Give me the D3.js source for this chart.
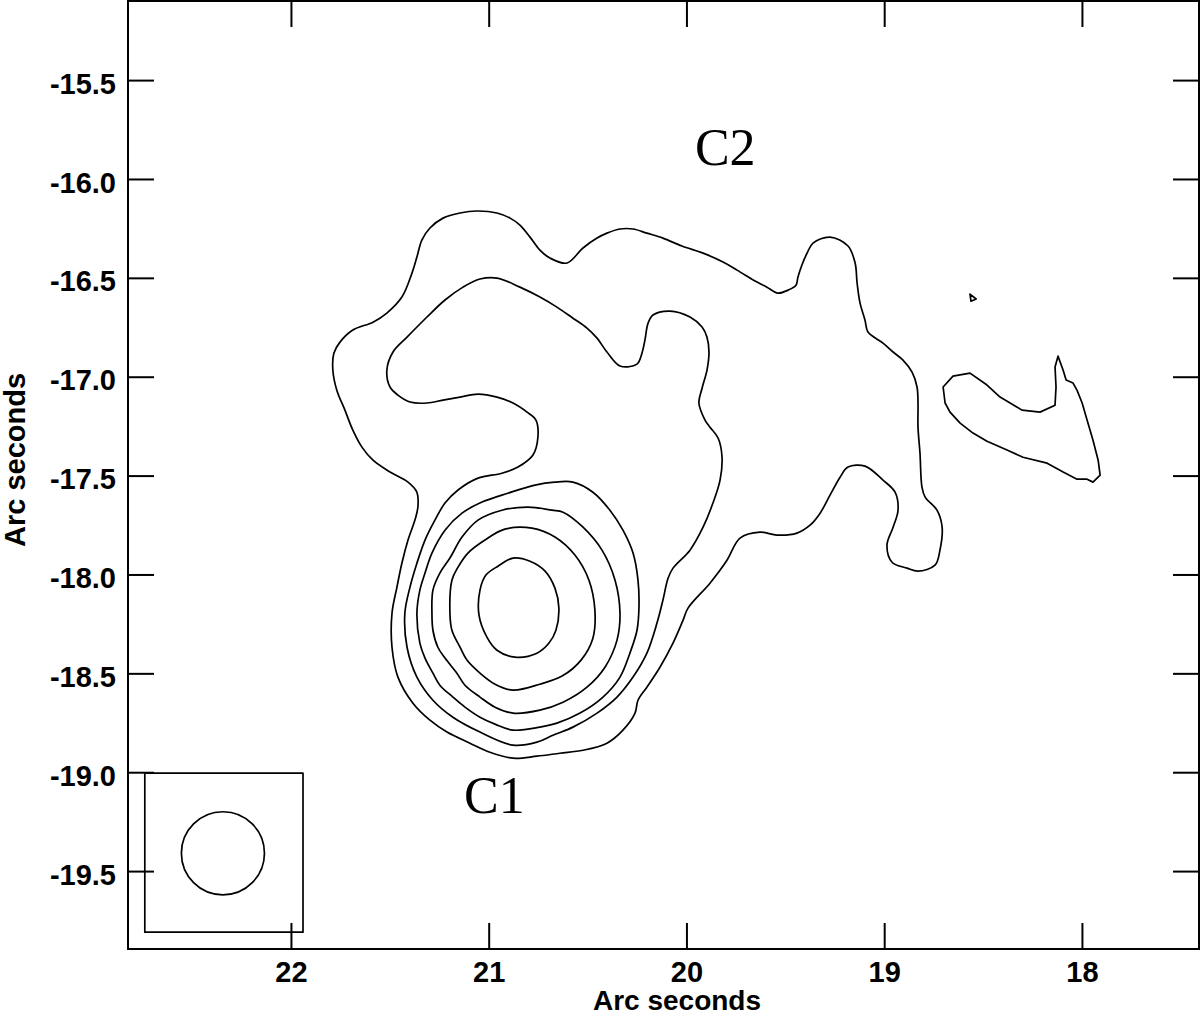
<!DOCTYPE html>
<html>
<head>
<meta charset="utf-8">
<script src="https://cdn.jsdelivr.net/npm/d3@7/dist/d3.min.js"></script>
<style>
  body { margin: 0; background: #fff; }
  svg { display: block; }
</style>
</head>
<body>
<svg id="chart" width="1200" height="1015"></svg>
<script>
// axes (arc seconds, x runs right to left)
const xDomain = [22.824, 17.408]
const yDomain = [-19.894, -15.1]
const xTicks = [22, 21, 20, 19, 18]
const yTicks = [-15.5, -16.0, -16.5, -17.0, -17.5, -18.0, -18.5, -19.0, -19.5]

// contour levels: [x, y] in arcsec
const outerContour = [
  [20.958, -16.172], [21.059, -16.162], [21.145, -16.172], [21.231, -16.198], [21.297, -16.248], [21.338, -16.309],
  [21.363, -16.395], [21.388, -16.476], [21.439, -16.597], [21.515, -16.678], [21.585, -16.724], [21.687, -16.764],
  [21.752, -16.825], [21.783, -16.881], [21.788, -16.967], [21.768, -17.068], [21.727, -17.169], [21.687, -17.270],
  [21.641, -17.356], [21.585, -17.422], [21.499, -17.482], [21.408, -17.533], [21.363, -17.584], [21.358, -17.659],
  [21.373, -17.725], [21.408, -17.826], [21.439, -17.943], [21.464, -18.064], [21.489, -18.196], [21.489, -18.368],
  [21.459, -18.519], [21.383, -18.651], [21.297, -18.737], [21.211, -18.797], [21.095, -18.853], [20.994, -18.899],
  [20.877, -18.929], [20.756, -18.919], [20.640, -18.904], [20.523, -18.889], [20.402, -18.853], [20.321, -18.787],
  [20.260, -18.701], [20.245, -18.636], [20.200, -18.570], [20.134, -18.469], [20.068, -18.347], [20.017, -18.231],
  [19.992, -18.170], [19.881, -18.044], [19.795, -17.928], [19.729, -17.816], [19.628, -17.786], [19.542, -17.801],
  [19.441, -17.791], [19.375, -17.751], [19.324, -17.690], [19.274, -17.599], [19.223, -17.508], [19.183, -17.457],
  [19.097, -17.452], [19.006, -17.523], [18.945, -17.584], [18.930, -17.675], [18.955, -17.761], [18.986, -17.852],
  [18.960, -17.938], [18.884, -17.968], [18.829, -17.983], [18.743, -17.953], [18.718, -17.877], [18.707, -17.761],
  [18.733, -17.675], [18.793, -17.609], [18.809, -17.558], [18.819, -17.386], [18.829, -17.255], [18.829, -17.128],
  [18.834, -17.052], [18.859, -16.977], [18.905, -16.916], [18.955, -16.875], [19.006, -16.830], [19.082, -16.774],
  [19.097, -16.714], [19.122, -16.628], [19.137, -16.526], [19.147, -16.425], [19.183, -16.339], [19.274, -16.294],
  [19.360, -16.324], [19.390, -16.375], [19.416, -16.435], [19.436, -16.496], [19.446, -16.537], [19.486, -16.562],
  [19.537, -16.577], [19.593, -16.547], [19.643, -16.521], [19.744, -16.461], [19.815, -16.420], [19.916, -16.375],
  [20.023, -16.339], [20.119, -16.299], [20.200, -16.274], [20.270, -16.253], [20.336, -16.253], [20.402, -16.274],
  [20.452, -16.299], [20.523, -16.349], [20.604, -16.425], [20.690, -16.400], [20.741, -16.360], [20.791, -16.294],
  [20.842, -16.233], [20.892, -16.198]
]

const secondContour = [
  [20.776, -17.396], [20.852, -17.457], [20.933, -17.488], [21.054, -17.513], [21.155, -17.573], [21.221, -17.639],
  [21.272, -17.725], [21.322, -17.826], [21.363, -17.943], [21.398, -18.064], [21.424, -18.196], [21.413, -18.368],
  [21.363, -18.519], [21.282, -18.636], [21.181, -18.722], [21.044, -18.797], [20.877, -18.863], [20.756, -18.848],
  [20.675, -18.813], [20.574, -18.772], [20.452, -18.701], [20.351, -18.620], [20.270, -18.519], [20.200, -18.398],
  [20.149, -18.246], [20.119, -18.130], [20.093, -18.019], [20.068, -17.968], [19.982, -17.877], [19.916, -17.761],
  [19.866, -17.639], [19.830, -17.523], [19.820, -17.407], [19.840, -17.310], [19.881, -17.255], [19.906, -17.219],
  [19.937, -17.133], [19.921, -17.058], [19.896, -16.967], [19.886, -16.875], [19.896, -16.800], [19.921, -16.749],
  [19.982, -16.698], [20.083, -16.668], [20.169, -16.688], [20.194, -16.729], [20.210, -16.815], [20.225, -16.881],
  [20.250, -16.936], [20.336, -16.946], [20.402, -16.875], [20.452, -16.805], [20.503, -16.754], [20.574, -16.704],
  [20.655, -16.648], [20.741, -16.597], [20.842, -16.547], [20.958, -16.501], [21.044, -16.506], [21.130, -16.547],
  [21.221, -16.612], [21.312, -16.698], [21.413, -16.800], [21.484, -16.875], [21.515, -16.967], [21.499, -17.052],
  [21.459, -17.093], [21.398, -17.128], [21.312, -17.133], [21.231, -17.118], [21.145, -17.103], [21.054, -17.088],
  [20.958, -17.103], [20.877, -17.133], [20.806, -17.179], [20.761, -17.219], [20.751, -17.305]
]

const ring3 = [
  [21.034, -17.634], [20.903, -17.589], [20.766, -17.548], [20.665, -17.533], [20.574, -17.533], [20.473, -17.584],
  [20.387, -17.675], [20.321, -17.776], [20.270, -17.892], [20.245, -18.029], [20.240, -18.165], [20.250, -18.282],
  [20.286, -18.398], [20.336, -18.519], [20.422, -18.620], [20.538, -18.701], [20.655, -18.752], [20.741, -18.772],
  [20.877, -18.787], [20.968, -18.757], [21.044, -18.722], [21.120, -18.671], [21.181, -18.620], [21.247, -18.560],
  [21.282, -18.499], [21.322, -18.423], [21.348, -18.347], [21.363, -18.196], [21.348, -18.079], [21.322, -17.993],
  [21.287, -17.892], [21.221, -17.776], [21.135, -17.690]
]

const ring4 = [
  [20.933, -17.675], [20.801, -17.659], [20.680, -17.675], [20.624, -17.685], [20.523, -17.761], [20.427, -17.877],
  [20.361, -18.029], [20.336, -18.196], [20.351, -18.332], [20.412, -18.469], [20.503, -18.570], [20.624, -18.646],
  [20.741, -18.686], [20.877, -18.701], [20.968, -18.671], [21.044, -18.620], [21.120, -18.560], [21.161, -18.499],
  [21.221, -18.423], [21.257, -18.368], [21.282, -18.282], [21.287, -18.196], [21.282, -18.079], [21.247, -17.993],
  [21.196, -17.917], [21.135, -17.811], [21.054, -17.725]
]

const ring5 = [
  [20.918, -17.771], [20.781, -17.766], [20.665, -17.811], [20.564, -17.902], [20.493, -18.029], [20.463, -18.180],
  [20.473, -18.322], [20.533, -18.433], [20.629, -18.514], [20.741, -18.555], [20.877, -18.585], [20.968, -18.555],
  [21.044, -18.499], [21.110, -18.433], [21.145, -18.368], [21.186, -18.282], [21.196, -18.196], [21.186, -18.029],
  [21.155, -17.963], [21.105, -17.892], [21.019, -17.826]
]

const ring6 = [
  [20.953, -17.958], [20.877, -17.917], [20.791, -17.933], [20.715, -17.983], [20.665, -18.069], [20.645, -18.170],
  [20.660, -18.282], [20.695, -18.347], [20.756, -18.398], [20.867, -18.418], [20.958, -18.383], [21.009, -18.317],
  [21.049, -18.206], [21.044, -18.079], [21.014, -18.003]
]

const eastIsland = [
  [18.121, -16.896], [18.095, -16.967], [18.080, -17.017], [18.045, -17.032], [18.025, -17.068], [17.999, -17.133],
  [17.974, -17.219], [17.944, -17.321], [17.918, -17.422], [17.908, -17.498], [17.944, -17.533], [17.974, -17.518],
  [18.025, -17.518], [18.095, -17.482], [18.176, -17.437], [18.298, -17.407], [18.379, -17.371], [18.480, -17.326],
  [18.551, -17.285], [18.616, -17.235], [18.667, -17.179], [18.692, -17.133], [18.702, -17.052], [18.652, -16.997],
  [18.566, -16.982], [18.480, -17.042], [18.414, -17.103], [18.303, -17.169], [18.212, -17.179], [18.136, -17.144],
  [18.131, -17.052], [18.136, -16.951]
]

const speck = [[18.566, -16.582], [18.535, -16.607], [18.561, -16.618]]

// restoring beam and its box
const beamBox = { x0: 22.739, y0: -19.005, x1: 21.939, y1: -19.809 }
const beam = { x: 22.344, y: -19.41, r: 0.21 }

const labels = [
  { text: 'C2', x: 19.957, y: -15.93 },
  { text: 'C1', x: 21.125, y: -19.207 }
]

const margin = { top: 1, right: 1, bottom: 66, left: 128 }
const width = 1200
const height = 1015

const svg = d3.select('#chart')

const x = d3.scaleLinear()
  .domain(xDomain)
  .range([margin.left, width - margin.right])

const y = d3.scaleLinear()
  .domain(yDomain)
  .range([height - margin.bottom, margin.top])

const boldFont = size => g => g
  .attr('font-family', '"Liberation Sans", Arial, Helvetica, sans-serif')
  .attr('font-size', size)
  .attr('font-weight', 'bold')

const blackTicks = g => g
  .call(g => g.select('.domain').remove())
  .call(g => g.selectAll('.tick line').attr('stroke', '#000').attr('stroke-width', 2))
  .call(g => g.selectAll('.tick text').attr('fill', '#000'))

// bottom axis with labels
svg.append('g')
  .attr('transform', `translate(0,${y.range()[0]})`)
  .call(d3.axisBottom(x).tickValues(xTicks).tickFormat(d => d).tickSizeInner(-26).tickSizeOuter(0).tickPadding(12))
  .call(boldFont(29))
  .call(blackTicks)

// top axis, ticks only
svg.append('g')
  .attr('transform', `translate(0,${y.range()[1]})`)
  .call(d3.axisTop(x).tickValues(xTicks).tickFormat('').tickSizeInner(-26).tickSizeOuter(0))
  .call(blackTicks)

// left axis with labels
svg.append('g')
  .attr('transform', `translate(${x.range()[0]},0)`)
  .call(d3.axisLeft(y).tickValues(yTicks).tickFormat(d => d.toFixed(1)).tickSizeInner(-26).tickSizeOuter(0).tickPadding(12))
  .call(boldFont(29))
  .call(blackTicks)
  .call(g => g.selectAll('.tick text').attr('dy', '0.45em'))

// right axis, ticks only
svg.append('g')
  .attr('transform', `translate(${x.range()[1]},0)`)
  .call(d3.axisRight(y).tickValues(yTicks).tickFormat('').tickSizeInner(-26).tickSizeOuter(0))
  .call(blackTicks)

// frame
svg.append('rect')
  .attr('x', x.range()[0])
  .attr('y', y.range()[1])
  .attr('width', x.range()[1] - x.range()[0])
  .attr('height', y.range()[0] - y.range()[1])
  .attr('fill', 'none')
  .attr('stroke', '#000')
  .attr('stroke-width', 2)

// axis titles
svg.append('text')
  .attr('x', 677)
  .attr('y', 1010)
  .attr('text-anchor', 'middle')
  .call(boldFont(28))
  .text('Arc seconds')

svg.append('text')
  .attr('transform', 'translate(25,460) rotate(-90)')
  .attr('text-anchor', 'middle')
  .call(boldFont(29))
  .text('Arc seconds')

const smooth = d3.line()
  .x(d => x(d[0]))
  .y(d => y(d[1]))
  .curve(d3.curveCatmullRomClosed.alpha(0.5))

const straight = d3.line()
  .x(d => x(d[0]))
  .y(d => y(d[1]))
  .curve(d3.curveLinearClosed)

const plot = svg.append('g')
  .attr('fill', 'none')
  .attr('stroke', '#000')
  .attr('stroke-width', 1.7)
  .attr('stroke-linejoin', 'round')

plot.selectAll('path.level')
  .data([outerContour, secondContour, ring3, ring4, ring5, ring6])
  .join('path')
  .attr('class', 'level')
  .attr('d', smooth)

plot.selectAll('path.patch')
  .data([eastIsland, speck])
  .join('path')
  .attr('class', 'patch')
  .attr('d', straight)

// beam
plot.append('rect')
  .attr('x', x(beamBox.x0))
  .attr('y', y(beamBox.y0))
  .attr('width', x(beamBox.x1) - x(beamBox.x0))
  .attr('height', y(beamBox.y1) - y(beamBox.y0))

plot.append('circle')
  .attr('cx', x(beam.x))
  .attr('cy', y(beam.y))
  .attr('r', Math.abs(x(beam.x + beam.r) - x(beam.x)))

// component labels
svg.selectAll('text.comp')
  .data(labels)
  .join('text')
  .attr('class', 'comp')
  .attr('x', d => x(d.x))
  .attr('y', d => y(d.y))
  .attr('font-family', '"Liberation Serif", "Times New Roman", serif')
  .attr('font-size', 52)
  .text(d => d.text)
</script>
</body>
</html>
